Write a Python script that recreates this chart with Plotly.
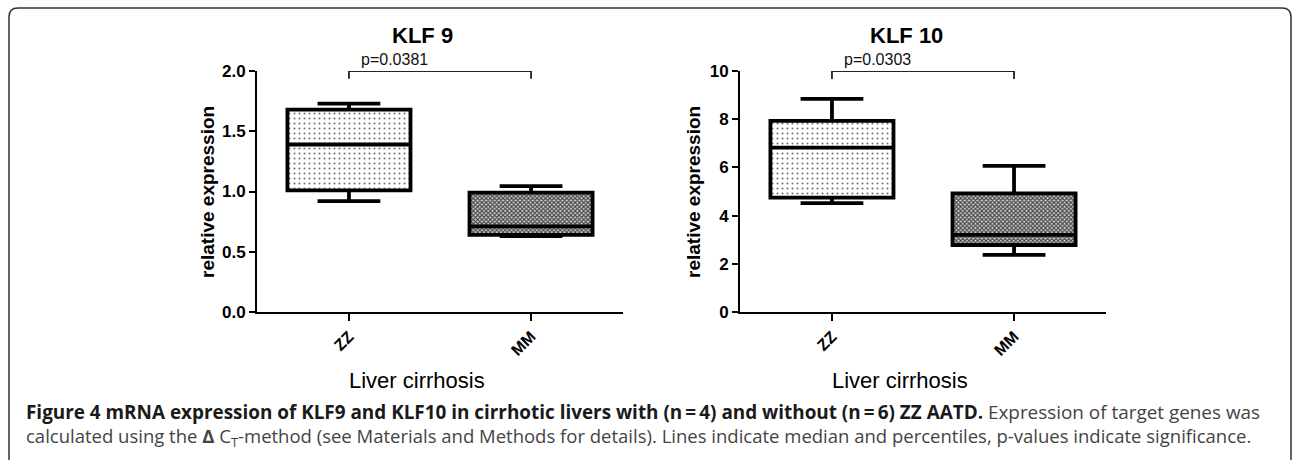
import plotly.graph_objects as go

# ---- data ----
groups = ["ZZ", "MM"]
genes = ["KLF 9", "KLF 10"]
p_values = ["p=0.0381", "p=0.0303"]

klf9_lower = [0.92, 0.63]
klf9_q1 = [1.01, 0.64]
klf9_median = [1.39, 0.71]
klf9_q3 = [1.68, 0.99]
klf9_upper = [1.73, 1.045]

klf10_lower = [4.52, 2.37]
klf10_q1 = [4.75, 2.78]
klf10_median = [6.82, 3.20]
klf10_q3 = [7.93, 4.92]
klf10_upper = [8.84, 6.06]

y_max = [2.0, 10.0]
y_dtick = [0.5, 2]
bracket_level = [2.0, 10.0]
bracket_drop = [1.935, 9.67]

caption_bold = ("Figure 4 mRNA expression of KLF9 and KLF10 in cirrhotic livers with "
                "(n\u2009=\u20094) and without (n\u2009=\u20096) ZZ AATD.")
caption_rest1 = " Expression of target genes was"
caption_line2 = ("calculated using the <b>\u0394</b> C<sub>T</sub>-method (see Materials and Methods "
                 "for details). Lines indicate median and percentiles, p-values indicate significance.")

W, H = 1292, 460
FONT = "Liberation Sans, Arial, sans-serif"

fig = go.Figure()

panels = [
    (klf9_lower, klf9_q1, klf9_median, klf9_q3, klf9_upper),
    (klf10_lower, klf10_q1, klf10_median, klf10_q3, klf10_upper),
]
xpos = [0, 1]
box_w = 0.676
patterns = [
    dict(shape=".", fgcolor="#707070", bgcolor="white", size=5, solidity=0.13),
    dict(shape="x", fgcolor="#444444", bgcolor="#d4d4d4", size=3, solidity=0.6),
]

for i, (lo, q1, med, q3, up) in enumerate(panels):
    xa = "x" if i == 0 else "x2"
    ya = "y" if i == 0 else "y2"
    for j in range(2):
        fig.add_trace(go.Bar(
            x=[xpos[j]], y=[q3[j] - q1[j]], base=[q1[j]], width=box_w,
            marker=dict(color="white", pattern=patterns[j], line=dict(width=0)),
            xaxis=xa, yaxis=ya, showlegend=False, hoverinfo="skip"))
        fig.add_trace(go.Box(
            x=[xpos[j]], q1=[q1[j]], median=[med[j]], q3=[q3[j]],
            lowerfence=[lo[j]], upperfence=[up[j]],
            width=box_w, whiskerwidth=0.51, boxpoints=False,
            fillcolor="rgba(0,0,0,0)", line=dict(color="black", width=3.8),
            xaxis=xa, yaxis=ya, showlegend=False, hoverinfo="skip"))
    # significance bracket
    fig.add_shape(type="path",
                  path=f"M {xpos[0]},{bracket_drop[i]} L {xpos[0]},{bracket_level[i]} "
                       f"L {xpos[1]},{bracket_level[i]} L {xpos[1]},{bracket_drop[i]}",
                  xref=xa, yref=ya, line=dict(color="#222", width=1.8))
    fig.add_annotation(x=0.25, y=bracket_level[i], xref=xa, yref=ya, text=p_values[i],
                       showarrow=False, yshift=12, xanchor="center", yanchor="middle",
                       font=dict(family=FONT, size=16, color="#111"))

# layout
left_dom = [257 / W, 623 / W]
right_dom = [740 / W, 1106 / W]
ydom = [(H - 312) / H, (H - 71) / H]

axis_common = dict(showgrid=False, zeroline=False, showline=True, linecolor="black", linewidth=2,
                   ticks="outside", tickwidth=2, tickcolor="black", automargin=False)

fig.update_layout(
    template="none",
    width=W, height=H, margin=dict(l=0, r=0, t=0, b=0, pad=0, autoexpand=False),
    paper_bgcolor="white", plot_bgcolor="white", barmode="overlay", boxmode="overlay",
    showlegend=False,
    xaxis=dict(domain=left_dom, range=[-0.505, 1.505], tickvals=xpos,
               tickangle=-45, ticklen=7, tickfont=dict(family=FONT, size=16, color="black"),
               **axis_common),
    yaxis=dict(domain=ydom, range=[0, y_max[0]], dtick=y_dtick[0], tickformat=".1f", ticklen=6,
               tickfont=dict(family=FONT, size=17, color="black"),
               **axis_common),
    xaxis2=dict(domain=right_dom, range=[-0.505, 1.505], tickvals=xpos,
                tickangle=-45, ticklen=7, tickfont=dict(family=FONT, size=16, color="black"),
                anchor="y2", **axis_common),
    yaxis2=dict(domain=ydom, range=[0, y_max[1]], dtick=y_dtick[1], ticklen=6,
                tickfont=dict(family=FONT, size=17, color="black"), anchor="x2",
                **axis_common),
)
# bold tick labels
fig.update_xaxes(ticktext=[f"<b>{g}</b>" for g in groups])
fig.update_yaxes(tickprefix="<b>", ticksuffix="</b>")

# titles and axis labels
for i, (tx, ytx, xtx) in enumerate([(422, 207, 417), (906, 693, 900)]):
    fig.add_annotation(x=tx / W, y=1 - 35 / H, xref="paper", yref="paper", text=f"<b>{genes[i]}</b>",
                       xanchor="center", yanchor="middle", showarrow=False,
                       font=dict(family=FONT, size=22, color="black"))
    fig.add_annotation(x=ytx / W, y=1 - 192 / H, xref="paper", yref="paper",
                       text="<b>relative expression</b>", textangle=-90, showarrow=False,
                       xanchor="center", yanchor="middle",
                       font=dict(family=FONT, size=19, color="black"))
    fig.add_annotation(x=xtx / W, y=1 - 380 / H, xref="paper", yref="paper", text="Liver cirrhosis",
                       xanchor="center", yanchor="middle", showarrow=False,
                       font=dict(family=FONT, size=22, color="black"))

# caption
CAP = "Open Sans, Noto Sans, sans-serif"
fig.add_annotation(x=24 / W, y=1 - 412 / H, xref="paper", yref="paper", xanchor="left",
                   yanchor="middle",
                   text=f"<b><span style='color:#1a1a1a'>{caption_bold}</span></b>"
                        f"<span style='color:#444'>{caption_rest1}</span>",
                   showarrow=False, font=dict(family=CAP, size=18.9, color="#333"))
fig.add_annotation(x=24 / W, y=1 - 437 / H, xref="paper", yref="paper", xanchor="left",
                   yanchor="middle",
                   text=f"<span style='color:#444'>{caption_line2}</span>",
                   showarrow=False, font=dict(family=CAP, size=18.5, color="#444"))

# rounded frame (open at the bottom)
def px(x, y):
    return f"{x / W},{1 - y / H}"
frame = (f"M {px(9, 470)} L {px(9, 17)} Q {px(9, 8)} {px(18, 8)} "
         f"L {px(1282, 8)} Q {px(1291, 8)} {px(1291, 17)} L {px(1291, 470)}")
fig.add_shape(type="path", path=frame, xref="paper", yref="paper",
              line=dict(color="#333", width=1.5), layer="below")

post = (
    "document.documentElement.style.margin='0';"
    "document.documentElement.style.overflow='hidden';"
    "document.body.style.margin='0';"
    "document.body.style.overflow='hidden';"
    "document.body.style.height='460px';"
    "var d=document.getElementsByClassName('plotly-graph-div')[0];"
    "d.style.position='fixed';d.style.top='0px';d.style.left='0px';"
)
fig.write_html("out.html", config={"displayModeBar": False}, post_script=post)
